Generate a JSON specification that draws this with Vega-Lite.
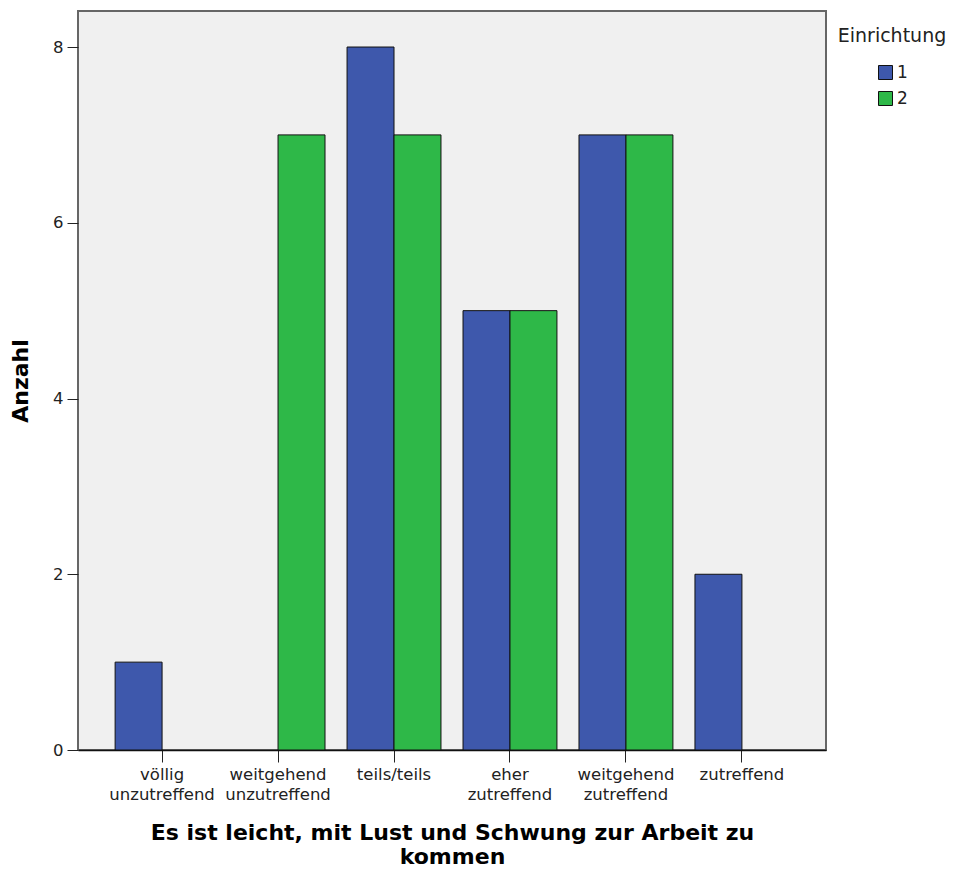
{
  "$schema": "https://vega.github.io/schema/vega-lite/v6.json",
  "autosize": "none",
  "width": 748,
  "height": 739,
  "padding": {"left": 78, "top": 11, "right": 133, "bottom": 131},
  "background": "white",
  "config": {
    "font": "DejaVu Sans",
    "view": {"fill": "#f0f0f0", "stroke": "#666666", "strokeWidth": 2}
  },
  "data": {
    "values": [
      {"kategorie": "völlig unzutreffend", "einrichtung": "1", "anzahl": 1},
      {"kategorie": "weitgehend unzutreffend", "einrichtung": "2", "anzahl": 7},
      {"kategorie": "teils/teils", "einrichtung": "1", "anzahl": 8},
      {"kategorie": "teils/teils", "einrichtung": "2", "anzahl": 7},
      {"kategorie": "eher zutreffend", "einrichtung": "1", "anzahl": 5},
      {"kategorie": "eher zutreffend", "einrichtung": "2", "anzahl": 5},
      {"kategorie": "weitgehend zutreffend", "einrichtung": "1", "anzahl": 7},
      {"kategorie": "weitgehend zutreffend", "einrichtung": "2", "anzahl": 7},
      {"kategorie": "zutreffend", "einrichtung": "1", "anzahl": 2}
    ]
  },
  "mark": {"type": "bar", "stroke": "#111111", "strokeWidth": 1},
  "encoding": {
    "x": {
      "field": "kategorie",
      "type": "nominal",
      "sort": ["völlig unzutreffend", "weitgehend unzutreffend", "teils/teils", "eher zutreffend", "weitgehend zutreffend", "zutreffend"],
      "scale": {"paddingInner": 0.19, "paddingOuter": 0.32},
      "axis": {
        "title": ["Es ist leicht, mit Lust und Schwung zur Arbeit zu", "kommen"],
        "titleFont": "DejaVu Sans",
        "titleFontSize": 22,
        "titleFontWeight": "bold",
        "titleColor": "#000000",
        "titleLineHeight": 24,
        "titlePadding": 20,
        "labelAngle": 0,
        "labelFontSize": 16.5,
        "labelColor": "#222222",
        "labelExpr": "split(datum.label, ' ')",
        "labelLineHeight": 20,
        "labelPadding": 4,
        "tickSize": 12,
        "tickColor": "#222222",
        "domainColor": "#111111",
        "domainWidth": 1.5
      }
    },
    "xOffset": {
      "field": "einrichtung",
      "type": "nominal",
      "scale": {"domain": ["1", "2"], "paddingInner": 0, "paddingOuter": 0}
    },
    "y": {
      "field": "anzahl",
      "type": "quantitative",
      "scale": {"domain": [0, 8.41], "nice": false},
      "axis": {
        "title": "Anzahl",
        "titleFontSize": 22,
        "titleFontWeight": "bold",
        "titleColor": "#000000",
        "titlePadding": 20,
        "values": [0, 2, 4, 6, 8],
        "labelFontSize": 16.5,
        "labelColor": "#222222",
        "labelPadding": 4,
        "tickSize": 11,
        "tickColor": "#222222",
        "grid": false,
        "domain": false
      }
    },
    "fill": {
      "field": "einrichtung",
      "type": "nominal",
      "scale": {"domain": ["1", "2"], "range": ["#3e58ac", "#2eb848"]},
      "legend": {
        "title": "Einrichtung",
        "orient": "none",
        "legendX": 760,
        "legendY": 16,
        "titleFontSize": 19,
        "titleFontWeight": "normal",
        "titleColor": "#222222",
        "titleAnchor": "middle",
        "titlePadding": 18,
        "labelFontSize": 17,
        "labelColor": "#222222",
        "labelOffset": 3,
        "symbolType": "square",
        "symbolSize": 196,
        "symbolStrokeColor": "#111111",
        "symbolStrokeWidth": 1,
        "rowPadding": 7
      }
    }
  }
}
